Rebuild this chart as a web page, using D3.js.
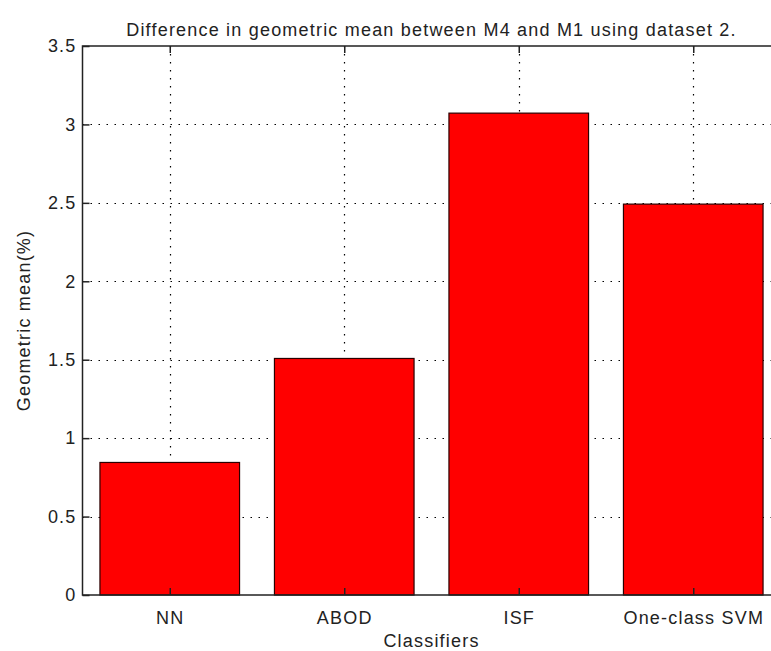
<!DOCTYPE html>
<html>
<head>
<meta charset="utf-8">
<script src="https://cdn.jsdelivr.net/npm/d3@7"></script>
<style>
  body { margin: 0; background: #fff; }
  text { font-family: "Liberation Sans", Arial, sans-serif; fill: #222; letter-spacing: 1.2px; }
</style>
</head>
<body>
<svg id="chart"></svg>
<script>
var categories = ["NN", "ABOD", "ISF", "One-class SVM"];
var values = [0.845, 1.508, 3.072, 2.492];
var yTicks = [0, 0.5, 1, 1.5, 2, 2.5, 3, 3.5];

var svgWidth = 771, svgHeight = 651;
var pLeft = 82.5, pRight = 780.5, pTop = 46, pBottom = 595;

var svg = d3.select("#chart")
    .attr("width", svgWidth)
    .attr("height", svgHeight);

// xlim [0.5, 4.5] like matlab's bar()
var x = d3.scaleLinear().domain([0.5, 4.5]).range([pLeft, pRight]);
var y = d3.scaleLinear().domain([0, 3.5]).range([pBottom, pTop]);
var barW = (x(1.4) - x(1));

// grid
svg.selectAll(".hgrid")
    .data(yTicks.slice(1, -1))
    .enter()
    .append("line")
    .attr("x1", pLeft).attr("x2", pRight)
    .attr("y1", function(d) { return Math.round(y(d)) + 0.5; })
    .attr("y2", function(d) { return Math.round(y(d)) + 0.5; })
    .attr("stroke", "#000")
    .attr("stroke-width", 1.2)
    .attr("stroke-dasharray", "1.5,6.5");

svg.selectAll(".vgrid")
    .data(categories)
    .enter()
    .append("line")
    .attr("x1", function(d, i) { return Math.round(x(i + 1)) + 0.5; })
    .attr("x2", function(d, i) { return Math.round(x(i + 1)) + 0.5; })
    .attr("y1", pTop).attr("y2", pBottom)
    .attr("stroke", "#000")
    .attr("stroke-width", 1.2)
    .attr("stroke-dasharray", "1.5,6.5");

// bars
svg.selectAll(".bar")
    .data(values)
    .enter()
    .append("rect")
    .attr("x", function(d, i) { return x(i + 1) - barW; })
    .attr("width", barW * 2)
    .attr("y", function(d) { return y(d); })
    .attr("height", function(d) { return pBottom - y(d); })
    .style("fill", "#ff0000")
    .attr("stroke", "#2a0000")
    .attr("stroke-width", 1.2);

// axes box
svg.append("rect")
    .attr("x", pLeft).attr("y", pTop)
    .attr("width", pRight - pLeft).attr("height", pBottom - pTop)
    .attr("fill", "none")
    .attr("stroke", "#222")
    .attr("stroke-width", 1.5);

var yAxis = d3.axisLeft(y).tickValues(yTicks).tickSizeInner(-7).tickSizeOuter(0)
    .tickPadding(6).tickFormat(d3.format("~g"));
var yg = svg.append("g").attr("transform", "translate(" + pLeft + ",0)").call(yAxis);
yg.select(".domain").remove();
yg.selectAll("line").attr("stroke", "#222").attr("stroke-width", 1.5);
yg.selectAll("text").style("font-size", "18px").attr("fill", "#222");

var yAxisR = d3.axisRight(y).tickValues(yTicks).tickSizeInner(-7).tickSizeOuter(0).tickFormat("");
var ygr = svg.append("g").attr("transform", "translate(" + pRight + ",0)").call(yAxisR);
ygr.select(".domain").remove();
ygr.selectAll("line").attr("stroke", "#222").attr("stroke-width", 1.5);

var xAxis = d3.axisBottom(x).tickValues([1, 2, 3, 4]).tickSizeInner(-7).tickSizeOuter(0)
    .tickPadding(16).tickFormat(function(d) { return categories[d - 1]; });
var xg = svg.append("g").attr("transform", "translate(0," + pBottom + ")").call(xAxis);
xg.select(".domain").remove();
xg.selectAll("line").attr("stroke", "#222").attr("stroke-width", 1.5);
xg.selectAll("text").style("font-size", "18px").attr("fill", "#222");

var xAxisT = d3.axisTop(x).tickValues([1, 2, 3, 4]).tickSizeInner(-7).tickSizeOuter(0).tickFormat("");
var xgt = svg.append("g").attr("transform", "translate(0," + pTop + ")").call(xAxisT);
xgt.select(".domain").remove();
xgt.selectAll("line").attr("stroke", "#222").attr("stroke-width", 1.5);

// labels
svg.append("text")
    .attr("x", (pLeft + pRight) / 2).attr("y", 36)
    .attr("text-anchor", "middle")
    .style("font-size", "18px")
    .text("Difference in geometric mean between M4 and M1 using dataset 2.");

svg.append("text")
    .attr("x", (pLeft + pRight) / 2).attr("y", 647)
    .attr("text-anchor", "middle")
    .style("font-size", "18px")
    .text("Classifiers");

svg.append("text")
    .attr("transform", "translate(30," + (pTop + pBottom) / 2 + ") rotate(-90)")
    .attr("text-anchor", "middle")
    .style("font-size", "18px")
    .text("Geometric mean(%)");
</script>
</body>
</html>
